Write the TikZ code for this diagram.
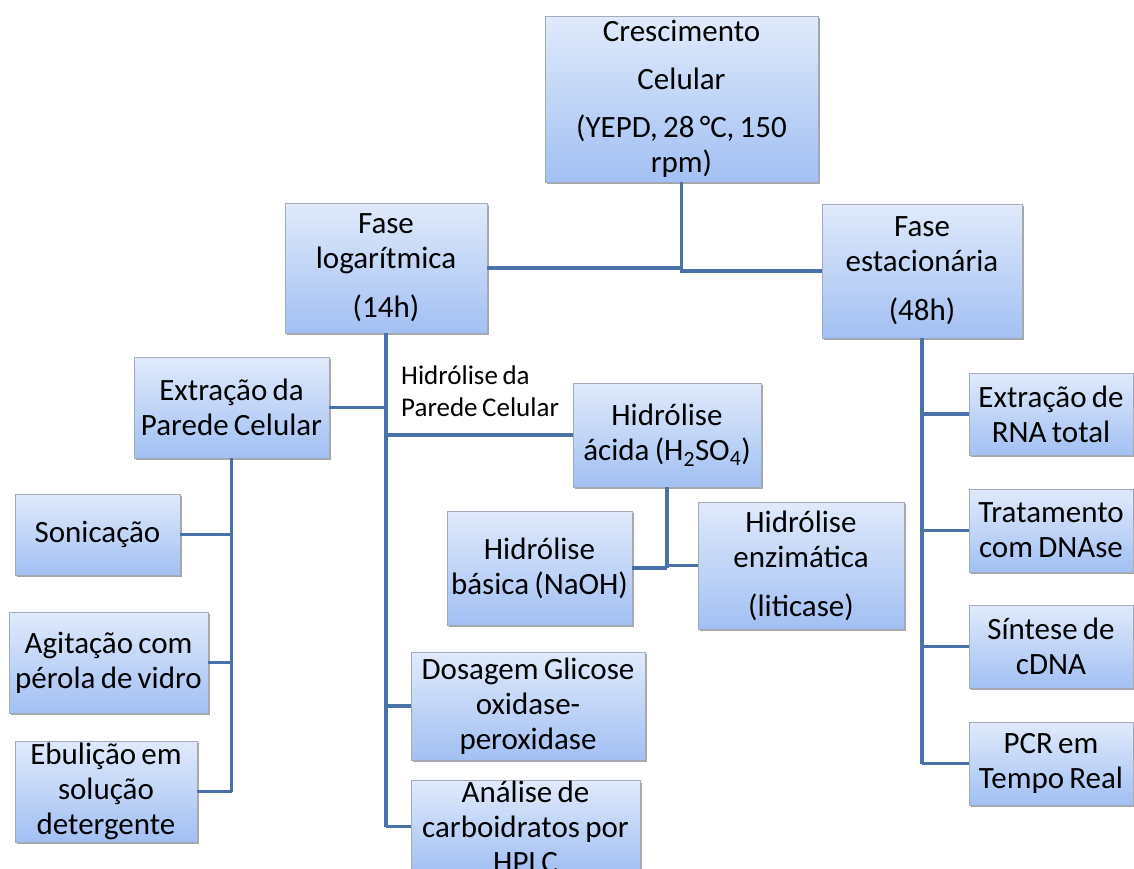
\documentclass[tikz,border=0pt]{standalone}
\usepackage{fontspec}
\setmainfont[WordSpace={0.75}]{Carlito}
\usetikzlibrary{shadows,calc}
\definecolor{boxtop}{HTML}{E0EAFB}
\definecolor{boxbot}{HTML}{A2C0F3}
\definecolor{boxline}{HTML}{A3AAB8}
\definecolor{conn}{HTML}{4A72A8}
\tikzset{
  box/.style={draw=boxline, line width=0.8pt, top color=boxtop, bottom color=boxbot,
    inner sep=0pt, align=flush center, font=\fontsize{31}{35}\selectfont,
    drop shadow={shadow xshift=2pt, shadow yshift=-2pt, opacity=0.35, fill=black}},
  link/.style={draw=conn, line width=3.4pt},
  lbl/.style={inner sep=0pt, align=flush left, font=\fontsize{27}{32}\selectfont}
}
\begin{document}
\begin{tikzpicture}[x=1pt,y=-1pt]
\path[use as bounding box] (0,0) rectangle (1134,868);
\clip (0,0) rectangle (1134,868);
% boxes
\node[box, text width=273pt, minimum height=166pt] (cres) at (681.5,99) {Crescimento\\[13pt]Celular\\[13pt](YEPD, 28 °C, 150\\rpm)};
\node[box, text width=202pt, minimum height=130pt] (flog) at (386,268) {Fase\\logarítmica\\[14pt](14h)};
\node[box, text width=200pt, minimum height=134pt] (fest) at (922,271) {Fase\\estacionária\\[14pt](48h)};
\node[box, text width=195pt, minimum height=101pt] (extp) at (231.5,407.5) {Extração da\\Parede Celular};
\node[box, text width=188pt, minimum height=104pt] (hacid) at (667,435) {Hidrólise\\ácida (H\textsubscript{2}SO\textsubscript{4})};
\node[box, text width=185pt, minimum height=114pt] (hbas) at (539.5,568) {Hidrólise\\básica (NaOH)};
\node[box, text width=206pt, minimum height=127pt] (henz) at (801,565.5) {Hidrólise\\enzimática\\[14pt](liticase)};
\node[box, text width=165pt, minimum height=81pt] (soni) at (97.5,534.5) {Sonicação};
\node[box, text width=199pt, minimum height=101pt] (agit) at (108.5,662.5) {Agitação com\\pérola de vidro};
\node[box, text width=182pt, minimum height=101pt] (ebul) at (106,791.5) {Ebulição em\\solução\\detergente};
\node[box, text width=234pt, minimum height=108pt] (dosa) at (528,706) {Dosagem Glicose\\oxidase-\\peroxidase};
\node[box, text width=229pt, minimum height=91pt] (anal) at (525.5,826.5) {Análise de\\carboidratos por\\HPLC};
\node[box, text width=164pt, minimum height=82pt] (rna) at (1051,414) {Extração de\\RNA total};
\node[box, text width=164pt, minimum height=83pt] (trat) at (1051,530.5) {Tratamento\\com DNAse};
\node[box, text width=164pt, minimum height=83pt] (sint) at (1051,646.5) {Síntese de\\cDNA};
\node[box, text width=164pt, minimum height=83pt] (pcr) at (1051,763.5) {PCR em\\Tempo Real};
% label
\node[lbl, anchor=west] (hlab) at (401,391) {Hidrólise da\\Parede Celular};
% connectors
\draw[link] (cres.south) -- (cres.south |- flog.east);
\draw[link] (flog.east) -- (flog.east -| cres.south);
\draw[link] (cres.south |- flog.east) |- (fest.west);
\draw[link] (flog.south) -- (flog.south |- anal.west);
\draw[link] (extp.east) -- (extp.east -| flog.south);
\draw[link] (flog.south |- hacid.west) -- (hacid.west);
\draw[link] (flog.south |- dosa.west) -- (dosa.west);
\draw[link] (flog.south |- anal.west) -- (anal.west);
\draw[link] (extp.south) -- (extp.south |- ebul.east);
\draw[link] (soni.east) -- (soni.east -| extp.south);
\draw[link] (agit.east) -- (agit.east -| extp.south);
\draw[link] (ebul.east) -- (ebul.east -| extp.south);
\draw[link] (hacid.south) -- (hacid.south |- hbas.east);
\draw[link] (hbas.east) -- (hbas.east -| hacid.south);
\draw[link] (hacid.south |- henz.west) -- (henz.west);
\draw[link] (fest.south) -- (fest.south |- pcr.west);
\draw[link] (fest.south |- rna.west) -- (rna.west);
\draw[link] (fest.south |- trat.west) -- (trat.west);
\draw[link] (fest.south |- sint.west) -- (sint.west);
\draw[link] (fest.south |- pcr.west) -- (pcr.west);
\end{tikzpicture}
\end{document}
